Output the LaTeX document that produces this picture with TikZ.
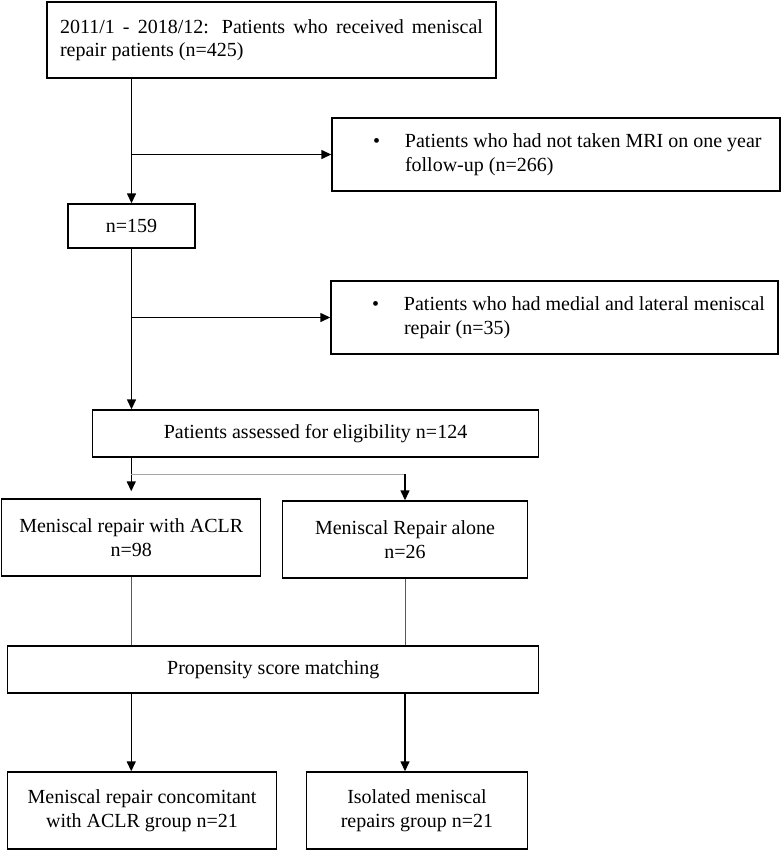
\documentclass[tikz,border=0pt]{standalone}
\usepackage{fontspec}
\setmainfont{Liberation Serif}
\usetikzlibrary{arrows.meta, positioning}

\begin{document}
\begin{tikzpicture}[
    x=1pt, y=-1pt,
    every node/.style={font=\fontsize{20}{23.5}\selectfont},
    >={Triangle[length=10pt, width=9pt]},
    box/.style={draw, line width=1.4pt, inner sep=0pt, align=center},
    exclbox/.style={draw, line width=1.4pt, inner sep=0pt, minimum width=448pt,
        minimum height=73pt},
    arr/.style={->, line width=1.4pt},
    thinline/.style={line width=0.7pt, black!65},
]
\useasboundingbox (0,0) rectangle (784,852);

% === Main column ===
\node[box, inner xsep=13pt, text width=423pt, minimum height=76pt, align=justify]
    (top) at (271.5,40)
    {2011/1 - 2018/12: Patients who received meniscal \mbox{repair} patients (n=425)};
\node[box, minimum width=127pt, minimum height=44pt] (n159) at (131.5,226) {n=159};
\node[box, minimum width=446pt, minimum height=47pt] (elig) at (315.5,433.5)
    {Patients assessed for eligibility n=124};

% === Exclusion boxes ===
\node[exclbox] (ex1) at (556,154.5)
    {\hspace*{41pt}\makebox[32pt][l]{•}\parbox[t]{372pt}{\raggedright
     Patients who had not taken MRI on one year follow-up (n=266)}\hspace*{3pt}};
\node[exclbox, minimum width=447pt] (ex2) at (554.5,317.5)
    {\hspace*{41pt}\makebox[32pt][l]{•}\parbox[t]{372pt}{\raggedright
     Patients who had medial and lateral meniscal repair (n=35)}\hspace*{2pt}};

% === Groups ===
\node[box, minimum width=259pt, minimum height=77pt] (aclr) at (131.25,537.5)
    {Meniscal repair with ACLR\\n=98};
\node[box, minimum width=245pt, minimum height=77pt] (alone) at (405,539.5)
    {Meniscal Repair alone\\n=26};
\node[box, minimum width=531pt, minimum height=47pt] (psm) at (273.25,669.5)
    {Propensity score matching};
\node[box, minimum width=269pt, minimum height=77pt] (grpA) at (142,810.5)
    {Meniscal repair concomitant\\with ACLR group n=21};
\node[box, minimum width=221pt, minimum height=77pt] (grpB) at (417,810.5)
    {Isolated meniscal\\repairs group n=21};

% === Connectors ===
\draw[arr] (n159.north |- top.south) -- (n159.north);
\draw[arr] (n159.north |- ex1.west) -- (ex1.west);
\draw[arr] (n159.south) -- (n159.south |- elig.north);
\draw[arr] (n159.south |- ex2.west) -- (ex2.west);

\coordinate (split) at (131,474);
\draw[line width=1.4pt] (aclr.north |- elig.south) -- (aclr.north |- split);
\draw[arr, shorten >=7pt] (aclr.north |- split) -- (aclr.north);
\draw[thinline, gray!70] (aclr.north |- split) -- (alone.north |- split);
\draw[arr] (alone.north |- split) -- (alone.north);

\draw[thinline] (aclr.south) -- (aclr.south |- psm.north);
\draw[thinline] (alone.south) -- (alone.south |- psm.north);
\draw[arr] (aclr.south |- psm.south) -- (aclr.south |- grpA.north);
\draw[arr] (alone.south |- psm.south) -- (alone.south |- grpB.north);

\end{tikzpicture}
\end{document}
